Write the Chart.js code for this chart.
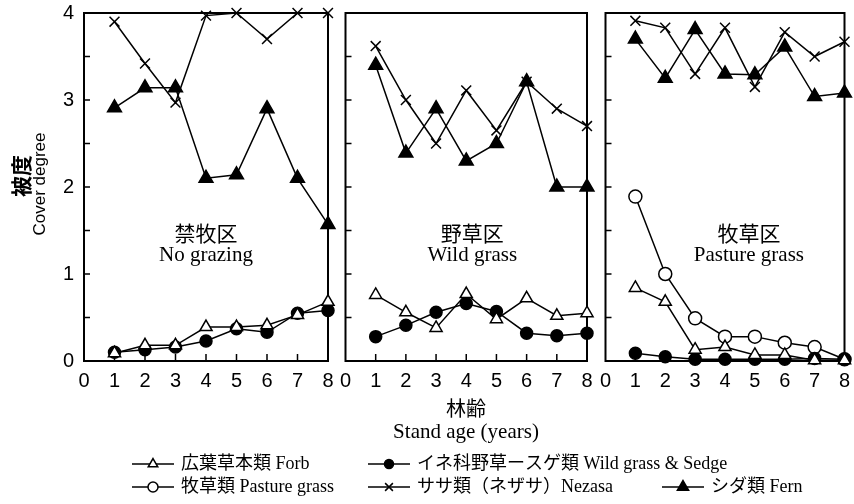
<!DOCTYPE html>
<html>
<head>
<meta charset="utf-8">
<script src="https://cdn.jsdelivr.net/npm/chart.js@4.4.1/dist/chart.umd.min.js"></script>
<style>
  body { margin: 0; background: #fff; }
  #wrap { position: relative; width: 854px; height: 504px; }
  canvas { position: absolute; top: 0; }
</style>
</head>
<body>
<div id="wrap">
  <canvas id="c1" style="left:0" width="854" height="504"></canvas>
  <canvas id="c2" style="left:336px" width="264" height="400"></canvas>
  <canvas id="c3" style="left:596px" width="258" height="400"></canvas>
</div>
<script>
// stand age (years)
const ages = [1, 2, 3, 4, 5, 6, 7, 8];

// 禁牧区 No grazing
const forbNo   = [0.09, 0.18, 0.18, 0.39, 0.39, 0.41, 0.53, 0.68];
const wildNo   = [0.10, 0.13, 0.16, 0.23, 0.37, 0.33, 0.55, 0.58];
const nezasaNo = [3.90, 3.42, 2.97, 3.97, 4.00, 3.70, 4.00, 4.00];
const fernNo   = [2.91, 3.14, 3.14, 2.10, 2.14, 2.90, 2.10, 1.57];

// 野草区 Wild grass
const forbWild   = [0.76, 0.56, 0.38, 0.77, 0.48, 0.72, 0.52, 0.55];
const wildWild   = [0.28, 0.41, 0.56, 0.66, 0.57, 0.32, 0.29, 0.32];
const nezasaWild = [3.62, 3.00, 2.50, 3.11, 2.65, 3.21, 2.90, 2.70];
const fernWild   = [3.40, 2.39, 2.90, 2.30, 2.50, 3.21, 2.00, 2.00];

// 牧草区 Pasture grass
const forbPas   = [0.84, 0.68, 0.13, 0.16, 0.07, 0.07, 0.01, 0.01];
const wildPas   = [0.09, 0.05, 0.02, 0.02, 0.02, 0.02, 0.03, 0.02];
const pastPas   = [1.89, 1.00, 0.49, 0.28, 0.28, 0.21, 0.16, 0.02];
const nezasaPas = [3.91, 3.83, 3.30, 3.83, 3.15, 3.78, 3.50, 3.67];
const fernPas   = [3.70, 3.25, 3.81, 3.30, 3.29, 3.61, 3.04, 3.08];

const seriesNames = ['広葉草本類 Forb', 'イネ科野草ースゲ類 Wild grass & Sedge', '牧草類 Pasture grass', 'ササ類（ネザサ）Nezasa', 'シダ類 Fern'];

Chart.defaults.color = '#000';
Chart.defaults.font.family = "'Liberation Sans', Arial, sans-serif";

const marks = {
  forb:   { pointStyle: 'triangle', pointRadius: 7, pointBackgroundColor: '#fff' },
  wild:   { pointStyle: 'circle',   pointRadius: 6, pointBackgroundColor: '#000' },
  past:   { pointStyle: 'circle',   pointRadius: 6.5, pointBackgroundColor: '#fff' },
  nezasa: { pointStyle: 'crossRot', pointRadius: 7, pointBackgroundColor: '#000' },
  fern:   { pointStyle: 'triangle', pointRadius: 8, pointBackgroundColor: '#000' }
};

function series(label, values, kind) {
  return Object.assign({
    label: label,
    data: ages.map((a, i) => ({ x: a, y: values[i] })),
    borderColor: '#000',
    borderWidth: 1.5,
    pointBorderColor: '#000',
    pointBorderWidth: 1.5,
    clip: false
  }, marks[kind]);
}

// frame, inward ticks and the region label of each panel
const panelDeco = {
  id: 'panelDeco',
  beforeDatasetsDraw(chart, args, o) {
    const { ctx, chartArea: a, scales: { x, y } } = chart;
    ctx.save();
    ctx.strokeStyle = '#000';
    ctx.lineWidth = 2;
    ctx.strokeRect(a.left, a.top, a.right - a.left, a.bottom - a.top);
    ctx.lineWidth = 1.5;
    ctx.beginPath();
    for (let v = 0.5; v < 4; v += 0.5) {
      const py = y.getPixelForValue(v);
      ctx.moveTo(a.left, py);
      ctx.lineTo(a.left + 6, py);
    }
    for (let i = 1; i < 8; i++) {
      const px = x.getPixelForValue(i);
      ctx.moveTo(px, a.bottom);
      ctx.lineTo(px, a.bottom - 7);
    }
    ctx.stroke();
    ctx.fillStyle = '#000';
    ctx.textAlign = 'center';
    ctx.textBaseline = 'middle';
    const cx = x.getPixelForValue(o.at);
    ctx.font = "21px 'Noto Sans CJK JP'";
    ctx.fillText(o.jp, cx, y.getPixelForValue(1.47));
    ctx.font = "21px 'Liberation Serif', 'Times New Roman', serif";
    ctx.fillText(o.en, cx, y.getPixelForValue(1.21));
    ctx.restore();
  }
};

// axis titles and the legend, drawn once on the first canvas
const outerText = {
  id: 'outerText',
  afterDraw(chart) {
    const ctx = chart.ctx;
    ctx.save();
    ctx.fillStyle = '#000';
    ctx.strokeStyle = '#000';
    ctx.textAlign = 'center';
    ctx.textBaseline = 'middle';

    ctx.save();
    ctx.translate(21, 176);
    ctx.rotate(-Math.PI / 2);
    ctx.font = "bold 21px 'Noto Sans CJK JP'";
    ctx.fillText('被度', 0, 0);
    ctx.restore();
    ctx.save();
    ctx.translate(40, 184);
    ctx.rotate(-Math.PI / 2);
    ctx.font = "17px 'Liberation Sans', Arial, sans-serif";
    ctx.fillText('Cover degree', 0, 0);
    ctx.restore();

    ctx.font = "20px 'Noto Sans CJK JP'";
    ctx.fillText('林齢', 466, 408);
    ctx.font = "21px 'Liberation Serif', 'Times New Roman', serif";
    ctx.fillText('Stand age (years)', 466, 432);

    const items = [
      ['forb', 132, 464, seriesNames[0]],
      ['wild', 368, 464, seriesNames[1]],
      ['past', 132, 487, seriesNames[2]],
      ['nezasa', 368, 487, seriesNames[3]],
      ['fern', 662, 487, seriesNames[4]]
    ];
    ctx.textAlign = 'left';
    ctx.font = "18px 'Liberation Serif', 'Noto Sans CJK JP', serif";
    items.forEach(([kind, lx, ly, text]) => {
      ctx.lineWidth = 1.5;
      ctx.beginPath();
      ctx.moveTo(lx, ly);
      ctx.lineTo(lx + 42, ly);
      ctx.stroke();
      ctx.fillStyle = marks[kind].pointBackgroundColor;
      Chart.helpers.drawPoint(ctx, {
        pointStyle: marks[kind].pointStyle,
        radius: marks[kind].pointRadius - 1.5,
        borderWidth: 1.5,
        rotation: 0
      }, lx + 21, ly);
      ctx.fillStyle = '#000';
      ctx.fillText(text, lx + 49, ly);
    });
    ctx.restore();
  }
};

function makePanel(id, sets, deco, showY, padding) {
  return new Chart(document.getElementById(id), {
    type: 'line',
    data: { datasets: sets },
    options: {
      responsive: false,
      animation: false,
      devicePixelRatio: 1,
      layout: { padding: padding },
      plugins: { legend: { display: false }, tooltip: { enabled: false }, panelDeco: deco },
      scales: {
        x: {
          type: 'linear', min: 0, max: 8,
          grid: { display: false, drawTicks: false },
          border: { display: false },
          ticks: { stepSize: 1, autoSkip: false, maxRotation: 0, padding: 8, font: { size: 20 } },
          afterFit: s => { s.height = 39; s.paddingLeft = 0; s.paddingRight = 0; }
        },
        y: {
          display: showY, min: 0, max: 4,
          grid: { display: false, drawTicks: false },
          border: { display: false },
          ticks: { stepSize: 1, padding: 10, font: { size: 20 } },
          afterFit: s => {
            s.width = showY ? 84 : 0;
            s.paddingTop = 0;
            s.paddingBottom = 0;
          }
        }
      }
    },
    plugins: showY ? [panelDeco, outerText] : [panelDeco]
  });
}

makePanel('c1', [
  series(seriesNames[0], forbNo, 'forb'),
  series(seriesNames[1], wildNo, 'wild'),
  series(seriesNames[3], nezasaNo, 'nezasa'),
  series(seriesNames[4], fernNo, 'fern')
], { jp: '禁牧区', en: 'No grazing', at: 4.0 }, true, { left: 0, top: 13, right: 526, bottom: 104 });

makePanel('c2', [
  series(seriesNames[0], forbWild, 'forb'),
  series(seriesNames[1], wildWild, 'wild'),
  series(seriesNames[3], nezasaWild, 'nezasa'),
  series(seriesNames[4], fernWild, 'fern')
], { jp: '野草区', en: 'Wild grass', at: 4.2 }, false, { left: 9, top: 13, right: 13, bottom: 0 });

makePanel('c3', [
  series(seriesNames[0], forbPas, 'forb'),
  series(seriesNames[1], wildPas, 'wild'),
  series(seriesNames[2], pastPas, 'past'),
  series(seriesNames[3], nezasaPas, 'nezasa'),
  series(seriesNames[4], fernPas, 'fern')
], { jp: '牧草区', en: 'Pasture grass', at: 4.8 }, false, { left: 9, top: 13, right: 6, bottom: 0 });
</script>
</body>
</html>
